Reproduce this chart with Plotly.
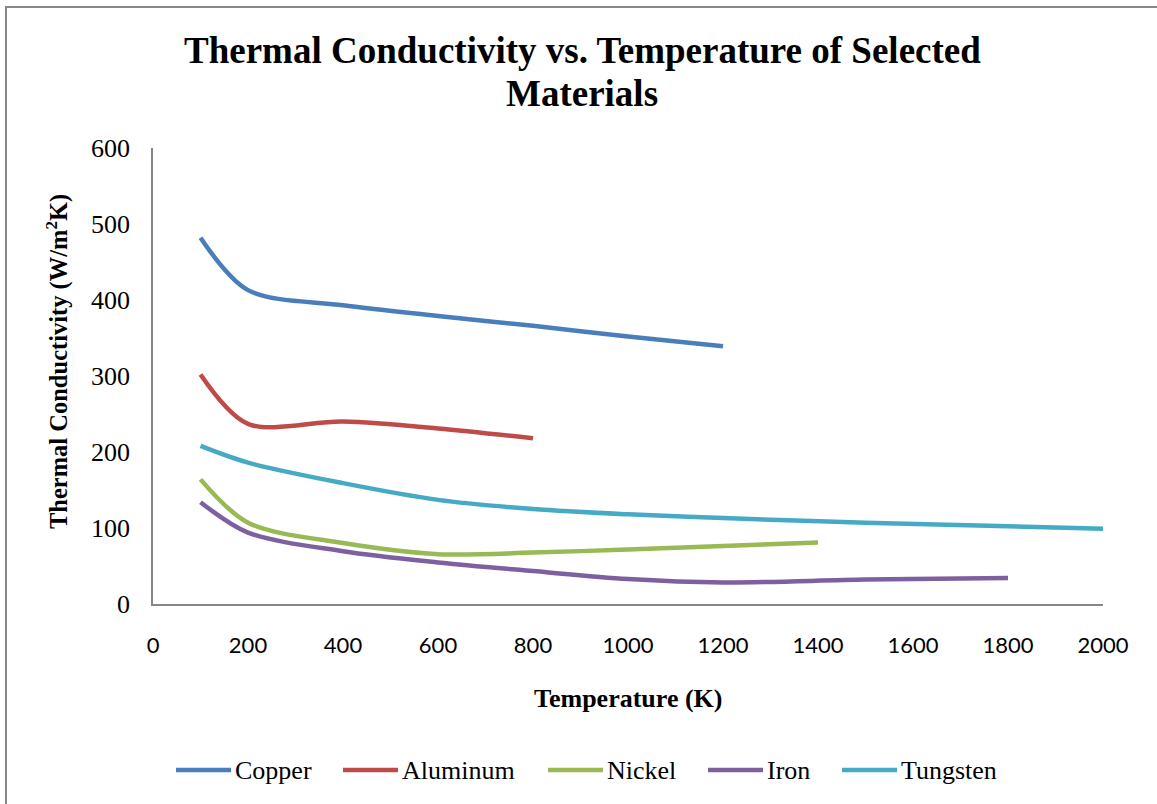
import plotly.graph_objects as go

# Thermal conductivity (W/m^2K) of selected metals versus temperature (K)
copper_T = [100, 200, 400, 600, 800, 1000, 1200]
copper_k = [482, 413, 393, 379, 366, 352, 339]

aluminum_T = [100, 200, 400, 600, 800]
aluminum_k = [302, 237, 240, 231, 218]

nickel_T = [100, 200, 400, 600, 800, 1000, 1200, 1400]
nickel_k = [164, 107, 80.2, 65.6, 67.6, 71.8, 76.2, 81]

iron_T = [100, 200, 400, 600, 800, 1000, 1200, 1500, 1800]
iron_k = [134, 94.0, 69.5, 54.7, 43.3, 32.8, 28.3, 32.1, 34.3]

tungsten_T = [100, 200, 400, 600, 800, 1000, 1200, 1500, 2000]
tungsten_k = [208, 186, 159, 137, 125, 118, 113, 107, 99]

names = ["Copper", "Aluminum", "Nickel", "Iron", "Tungsten"]
temps = [copper_T, aluminum_T, nickel_T, iron_T, tungsten_T]
values = [copper_k, aluminum_k, nickel_k, iron_k, tungsten_k]
colors = ["#4A7EBB", "#BE4B48", "#98B954", "#7D60A0", "#46AAC5"]

x_ticks = list(range(0, 2001, 200))
y_ticks = list(range(0, 601, 100))

SERIF = "Liberation Serif, Times New Roman, serif"
SANS = "Lato, Liberation Sans, sans-serif"
AXIS_GREY = "#878787"

# plot-area geometry in pixels (used to place titles, legend and frame)
W, H = 1157, 804
L, R, T, B = 153, 54, 148, 200
PW, PH = W - L - R, H - T - B


def px(x):
    return (x - L) / PW


def py(y):
    return (H - B - y) / PH


fig = go.Figure()
for name, t, k, color in zip(names, temps, values, colors):
    fig.add_trace(go.Scatter(
        x=t, y=k, name=name, mode="lines", showlegend=False,
        line=dict(color=color, width=4.5, shape="spline", smoothing=0.9),
    ))

annotations = [
    dict(text="<b>Thermal Conductivity vs. Temperature of Selected</b>",
         xref="paper", yref="paper", x=px(582), y=py(50),
         xanchor="center", yanchor="middle", showarrow=False,
         font=dict(family=SERIF, size=37, color="black")),
    dict(text="<b>Materials</b>",
         xref="paper", yref="paper", x=px(582), y=py(94),
         xanchor="center", yanchor="middle", showarrow=False,
         font=dict(family=SERIF, size=37, color="black")),
    dict(text="<b>Thermal Conductivity (W/m<sup>2</sup>K)</b>",
         xref="paper", yref="paper", x=px(57), y=py(362),
         xanchor="center", yanchor="middle", textangle=-90, showarrow=False,
         font=dict(family=SERIF, size=24.5, color="black")),
    dict(text="<b>Temperature (K)</b>",
         xref="paper", yref="paper", x=0.5, y=py(698),
         xanchor="center", yanchor="middle", showarrow=False,
         font=dict(family=SERIF, size=26, color="black")),
]

shapes = [
    dict(type="rect", xref="paper", yref="paper",
         x0=px(6), x1=1.5, y0=-1.0, y1=py(7),
         line=dict(color=AXIS_GREY, width=2), fillcolor="rgba(0,0,0,0)", layer="below"),
]

# legend row: sample line followed by its label
legend_y = 770
legend_starts = [176, 343, 548, 708, 842]
for name, color, x0 in zip(names, colors, legend_starts):
    shapes.append(dict(type="line", xref="paper", yref="paper",
                       x0=px(x0), x1=px(x0 + 55), y0=py(legend_y), y1=py(legend_y),
                       line=dict(color=color, width=4.5)))
    annotations.append(dict(text=name, xref="paper", yref="paper",
                            x=px(x0 + 57), y=py(legend_y), xanchor="left", yanchor="middle",
                            showarrow=False, font=dict(family=SERIF, size=26, color="black")))

fig.update_layout(
    width=W, height=H,
    margin=dict(l=L, r=R, t=T, b=B),
    paper_bgcolor="white", plot_bgcolor="white",
    showlegend=False,
    xaxis=dict(
        range=[0, 2000], tickvals=x_ticks, ticktext=[str(v) for v in x_ticks],
        showgrid=False, zeroline=False, showline=True, linecolor=AXIS_GREY, linewidth=1.5,
        ticks="", ticklabelstandoff=21,
        tickfont=dict(family=SANS, size=22, color="black"),
    ),
    yaxis=dict(
        range=[0, 600], tickvals=y_ticks, ticktext=[str(v) for v in y_ticks],
        showgrid=False, zeroline=False, showline=True, linecolor=AXIS_GREY, linewidth=1.5,
        ticks="", ticklabelstandoff=16,
        tickfont=dict(family=SERIF, size=26, color="black"),
    ),
    annotations=annotations,
    shapes=shapes,
)

fig.write_html("out.html")
